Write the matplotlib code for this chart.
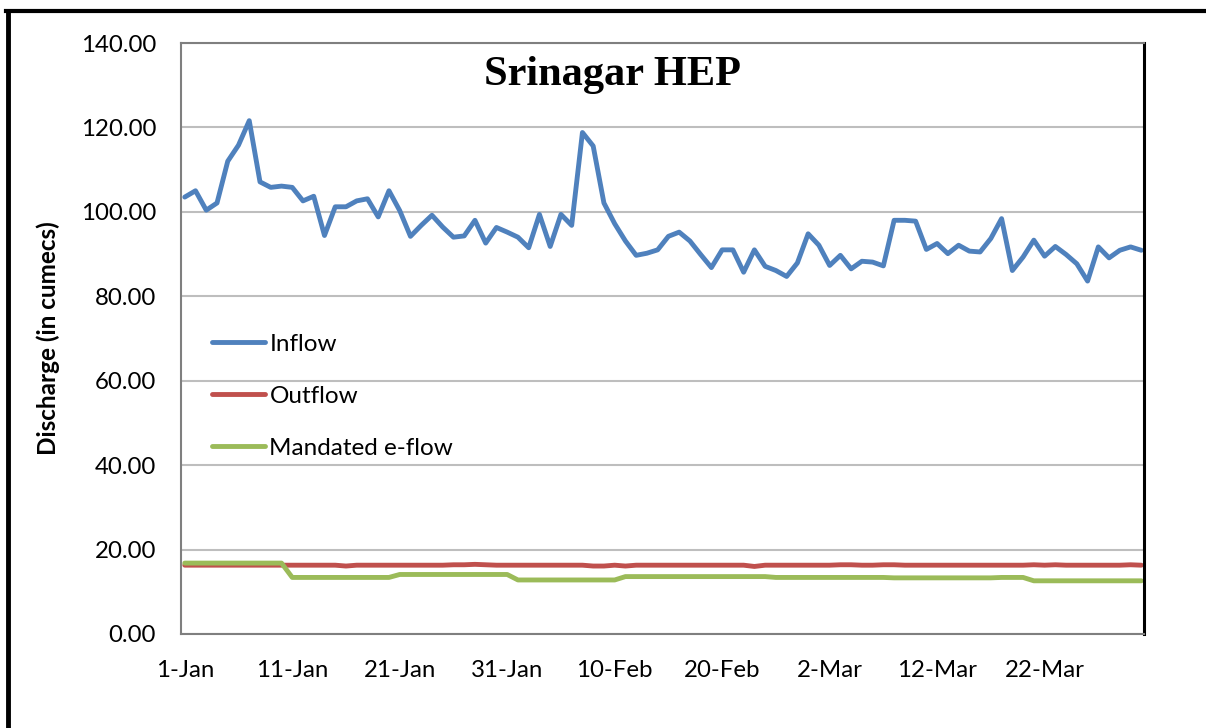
import matplotlib
matplotlib.use("Agg")
import matplotlib.pyplot as plt
from matplotlib.lines import Line2D
from matplotlib.ticker import FormatStrFormatter
import numpy as np

# Day index 0 = 1-Jan ... 89 = 31-Mar
inflow = [103.5, 105.0, 100.4, 102.1, 112.0, 115.8, 121.6, 107.1, 105.8, 106.1,
          105.8, 102.6, 103.7, 94.4, 101.2, 101.2, 102.6, 103.1, 98.8, 105.0,
          100.3, 94.2, 96.8, 99.2, 96.4, 94.0, 94.3, 98.0, 92.6, 96.3,
          95.2, 94.0, 91.5, 99.4, 91.8, 99.4, 96.8, 118.8, 115.6, 102.1,
          97.2, 93.1, 89.7, 90.2, 91.0, 94.2, 95.2, 93.1, 89.9, 86.8,
          91.0, 91.0, 85.7, 91.0, 87.1, 86.1, 84.7, 87.9, 94.8, 92.1,
          87.3, 89.7, 86.5, 88.3, 88.1, 87.2, 98.0, 98.0, 97.8, 91.1,
          92.5, 90.1, 92.1, 90.7, 90.5, 93.7, 98.4, 86.1, 89.3, 93.3,
          89.5, 91.8, 89.9, 87.7, 83.6, 91.7, 89.1, 90.9, 91.7, 90.9]

outflow = [16.3, 16.3, 16.3, 16.3, 16.3, 16.3, 16.3, 16.3, 16.3, 16.3,
           16.3, 16.3, 16.3, 16.3, 16.3, 16.1, 16.3, 16.3, 16.3, 16.3,
           16.3, 16.3, 16.3, 16.3, 16.3, 16.4, 16.4, 16.5, 16.4, 16.3,
           16.3, 16.3, 16.3, 16.3, 16.3, 16.3, 16.3, 16.3, 16.1, 16.1,
           16.3, 16.1, 16.3, 16.3, 16.3, 16.3, 16.3, 16.3, 16.3, 16.3,
           16.3, 16.3, 16.3, 16.0, 16.3, 16.3, 16.3, 16.3, 16.3, 16.3,
           16.3, 16.4, 16.4, 16.3, 16.3, 16.4, 16.4, 16.3, 16.3, 16.3,
           16.3, 16.3, 16.3, 16.3, 16.3, 16.3, 16.3, 16.3, 16.3, 16.4,
           16.3, 16.4, 16.3, 16.3, 16.3, 16.3, 16.3, 16.3, 16.4, 16.3]

eflow = [16.8] * 10 + [13.4] * 10 + [14.1] * 11 + [12.8] * 10 + \
        [13.6] * 14 + [13.4] * 11 + [13.3] * 10 + [13.4] * 3 + [12.6] * 11

xtick_pos = [0, 10, 20, 30, 40, 50, 60, 70, 80]
xtick_labels = ["1-Jan", "11-Jan", "21-Jan", "31-Jan", "10-Feb", "20-Feb",
                "2-Mar", "12-Mar", "22-Mar"]
ytick_vals = [0, 20, 40, 60, 80, 100, 120, 140]

plt.rcParams['font.family'] = ['Lato', 'DejaVu Sans']

fig = plt.figure(figsize=(12.06, 7.28), dpi=100)
ax = fig.add_axes([181/1206, 1-634/728, (1144-181)/1206, (634-43)/728])

days = np.arange(len(inflow))
ax.plot(days, inflow, color='#4F81BD', lw=3.5, label='Inflow', solid_capstyle='round')
ax.plot(days, outflow, color='#C0504D', lw=3.5, label='Outflow', solid_capstyle='round')
ax.plot(days, eflow, color='#9BBB59', lw=3.5, label='Mandated e-flow', solid_capstyle='round')

ax.set_xlim(-0.35, 89.25)
ax.set_ylim(0, 140)
ax.set_yticks(ytick_vals)
ax.yaxis.set_major_formatter(FormatStrFormatter('%.2f'))
ax.set_xticks(xtick_pos)
ax.set_xticklabels(xtick_labels)
ax.tick_params(axis='both', length=0, labelsize=17.3, colors='black')
ax.tick_params(axis='y', pad=18)
ax.tick_params(axis='x', pad=19)
ax.yaxis.grid(True, color='#BEBEBE', lw=1.5)
ax.set_axisbelow(True)
for s in ['left', 'bottom', 'top']:
    ax.spines[s].set_color('#7F7F7F')
    ax.spines[s].set_linewidth(1.5)
ax.spines['right'].set_color('black')
ax.spines['right'].set_linewidth(2.2)

ax.set_ylabel('Discharge (in cumecs)', fontsize=17.5, fontweight='bold')
ax.yaxis.set_label_coords(-0.126, 0.5)

ax.text(0.4476, 0.978, 'Srinagar HEP', transform=ax.transAxes, ha='center', va='top',
        fontsize=30.5, fontweight='bold', family='Liberation Serif')

leg = ax.legend(loc='upper left', bbox_to_anchor=(0.032, 0.508), frameon=False,
                fontsize=17.5, handlelength=2.2, handletextpad=0.17,
                labelspacing=1.27, borderaxespad=0, borderpad=0)

# Outer frame (top and left black borders)
fig.add_artist(Line2D([6/1206, 1.0], [1-11/728, 1-11/728], color='black', lw=3,
                      transform=fig.transFigure))
fig.add_artist(Line2D([8/1206, 8/1206], [0, 1-11/728], color='black', lw=3.5,
                      transform=fig.transFigure))

fig.savefig('out.png', dpi=100)
